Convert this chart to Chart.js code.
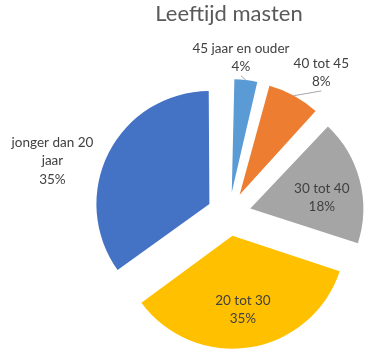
<!DOCTYPE html>
<html><head><meta charset="utf-8">
<script src="https://cdn.jsdelivr.net/npm/chart.js@4/dist/chart.umd.min.js"></script>
<style>html,body{margin:0;padding:0;background:#fff;overflow:hidden}</style>
</head><body>
<canvas id="c" width="373" height="357"></canvas>
<script>
const categories = ['45 jaar en ouder', '40 tot 45', '30 tot 40', '20 tot 30', 'jonger dan 20 jaar'];
const percentages = [4, 8, 18, 35, 35];
const labelLines = [['45 jaar en ouder'], ['40 tot 45'], ['30 tot 40'], ['20 tot 30'], ['jonger dan 20', 'jaar']];
const colors = ['#5B9BD5', '#ED7D31', '#A5A5A5', '#FFC000', '#4472C4'];

// label placement (relative to each exploded slice)
const labelAngleShift = [-3.3, 5, 5.7, 0.9, -11.7];
const labelDist = [1.195, 1.30, 0.64, 0.66, 1.44];
const showLeader = [true, true, false, false, false];
const EXPLODE = 22;
const RADIUS = 113;
const LINE_H = 18.5;

const fixRadius = {
  id: 'fixRadius',
  afterDatasetUpdate(chart, args) {
    args.meta.data.forEach(arc => {
      const fix = 1 - Math.sin(Math.min(Math.PI, arc.circumference));
      arc.outerRadius = RADIUS - EXPLODE * fix;
    });
  }
};

const sliceLabels = {
  id: 'sliceLabels',
  afterDatasetsDraw(chart) {
    const ctx = chart.ctx;
    const meta = chart.getDatasetMeta(0);
    ctx.save();
    ctx.font = '13.5px Lato';
    ctx.fillStyle = '#404040';
    ctx.strokeStyle = '#A6A6A6';
    ctx.lineWidth = 1;
    ctx.textAlign = 'center';
    ctx.textBaseline = 'middle';
    meta.data.forEach((arc, i) => {
      const mid = (arc.startAngle + arc.endAngle) / 2;
      const ax = arc.x + Math.cos(mid) * EXPLODE;
      const ay = arc.y + Math.sin(mid) * EXPLODE;
      const la = mid + labelAngleShift[i] * Math.PI / 180;
      const lx = ax + Math.cos(la) * RADIUS * labelDist[i];
      const ly = ay + Math.sin(la) * RADIUS * labelDist[i];
      const lines = labelLines[i].concat([percentages[i] + '%']);
      const top = ly - (lines.length - 1) * LINE_H / 2;
      lines.forEach((t, k) => ctx.fillText(t, lx, top + k * LINE_H));
      if (showLeader[i]) {
        const ex = ax + Math.cos(mid) * RADIUS;
        const ey = ay + Math.sin(mid) * RADIUS;
        ctx.beginPath();
        ctx.moveTo(ex, ey);
        ctx.lineTo(lx, top + (lines.length - 1) * LINE_H + 9);
        ctx.stroke();
      }
    });
    ctx.restore();
  }
};

new Chart(document.getElementById('c'), {
  type: 'pie',
  data: {
    labels: categories,
    datasets: [{
      data: percentages,
      backgroundColor: colors,
      borderWidth: 0,
      offset: EXPLODE * 4
    }]
  },
  options: {
    responsive: false,
    animation: false,
    devicePixelRatio: 1,
    radius: RADIUS,
    layout: { padding: { left: 85, right: 0, top: 0, bottom: 0 } },
    plugins: {
      legend: { display: false },
      tooltip: { enabled: false },
      title: {
        display: true,
        text: 'Leeftijd masten',
        color: '#595959',
        font: { family: 'Lato', size: 22, weight: 'normal' },
        padding: { top: 1, bottom: 43.6 }
      }
    }
  },
  plugins: [fixRadius, sliceLabels]
});
</script>
</body></html>
